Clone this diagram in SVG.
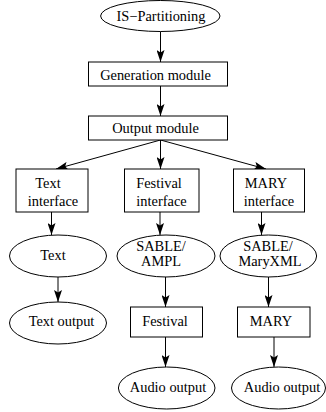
<svg xmlns="http://www.w3.org/2000/svg" width="326" height="412" viewBox="0 0 326 412">
<defs>
<marker id="ah" markerUnits="userSpaceOnUse" markerWidth="12" markerHeight="8" refX="12" refY="4" orient="auto">
<path d="M0,0 L12,4 L0,8 L2.5,4 z" fill="#000"/>
</marker>
<style>
.n{fill:#fff;stroke:#000;stroke-width:1}
.t{font-family:"Liberation Serif","Times New Roman",serif;font-size:14.4px;fill:#000;text-anchor:middle}
.e{stroke:#000;stroke-width:1;fill:none;marker-end:url(#ah)}
</style>
</defs>
<rect width="326" height="412" fill="#fff"/>
<g id="connectors">
<line class="e" x1="160.5" y1="31.5" x2="160.5" y2="62"/>
<line class="e" x1="160.5" y1="86" x2="160.5" y2="116"/>
<line class="e" x1="160.5" y1="140" x2="56" y2="169"/>
<line class="e" x1="160.5" y1="140" x2="160.5" y2="169"/>
<line class="e" x1="160.5" y1="140" x2="266" y2="169"/>
<line class="e" x1="51.5" y1="212" x2="51.5" y2="235"/>
<line class="e" x1="160" y1="212" x2="160" y2="235"/>
<line class="e" x1="261.5" y1="212" x2="261.5" y2="235"/>
<line class="e" x1="58" y1="277" x2="58" y2="302"/>
<line class="e" x1="165.5" y1="277" x2="165.5" y2="307"/>
<line class="e" x1="268.5" y1="277" x2="268.5" y2="307"/>
<line class="e" x1="165.5" y1="337" x2="165.5" y2="367"/>
<line class="e" x1="274" y1="337" x2="274" y2="367"/>
</g>
<g id="is-partitioning">
<ellipse class="n" cx="160.3" cy="16" rx="59.7" ry="15.5"/>
<text class="t" x="161" y="20.5">IS−Partitioning</text>
</g>
<g id="generation-module">
<rect class="n" x="88.5" y="62" width="139" height="24"/>
<text class="t" x="155.5" y="80">Generation module</text>
</g>
<g id="output-module">
<rect class="n" x="88.5" y="116" width="139" height="24"/>
<text class="t" x="155.5" y="133.3">Output module</text>
</g>
<g id="text-interface">
<rect class="n" x="16" y="169" width="72" height="43"/>
<text class="t" x="48" y="188">Text</text>
<text class="t" x="53" y="206">interface</text>
</g>
<g id="festival-interface">
<rect class="n" x="124.5" y="169" width="74.5" height="43"/>
<text class="t" x="159" y="188">Festival</text>
<text class="t" x="161.5" y="206">interface</text>
</g>
<g id="mary-interface">
<rect class="n" x="233.5" y="169" width="71" height="43"/>
<text class="t" x="266" y="188">MARY</text>
<text class="t" x="269" y="206">interface</text>
</g>
<g id="text">
<ellipse class="n" cx="58" cy="256" rx="48.5" ry="21"/>
<text class="t" x="53" y="260">Text</text>
</g>
<g id="sable-ampl">
<ellipse class="n" cx="166" cy="256" rx="49" ry="21"/>
<text class="t" x="161" y="250.5">SABLE/</text>
<text class="t" x="161" y="265.5">AMPL</text>
</g>
<g id="sable-maryxml">
<ellipse class="n" cx="268.3" cy="256" rx="48.3" ry="21"/>
<text class="t" x="268" y="250.5">SABLE/</text>
<text class="t" x="270" y="265.5">MaryXML</text>
</g>
<g id="text-output">
<ellipse class="n" cx="58" cy="323" rx="48.5" ry="21"/>
<text class="t" x="61.5" y="326">Text output</text>
</g>
<g id="festival">
<rect class="n" x="130.5" y="307" width="72" height="30"/>
<text class="t" x="165" y="326">Festival</text>
</g>
<g id="mary">
<rect class="n" x="237.5" y="307" width="72.5" height="30"/>
<text class="t" x="271" y="326">MARY</text>
</g>
<g id="audio-output-1">
<ellipse class="n" cx="166.7" cy="388" rx="48.3" ry="21"/>
<text class="t" x="168" y="391.5">Audio output</text>
</g>
<g id="audio-output-2">
<ellipse class="n" cx="278.5" cy="388" rx="47" ry="21"/>
<text class="t" x="282" y="391.5">Audio output</text>
</g>
</svg>
